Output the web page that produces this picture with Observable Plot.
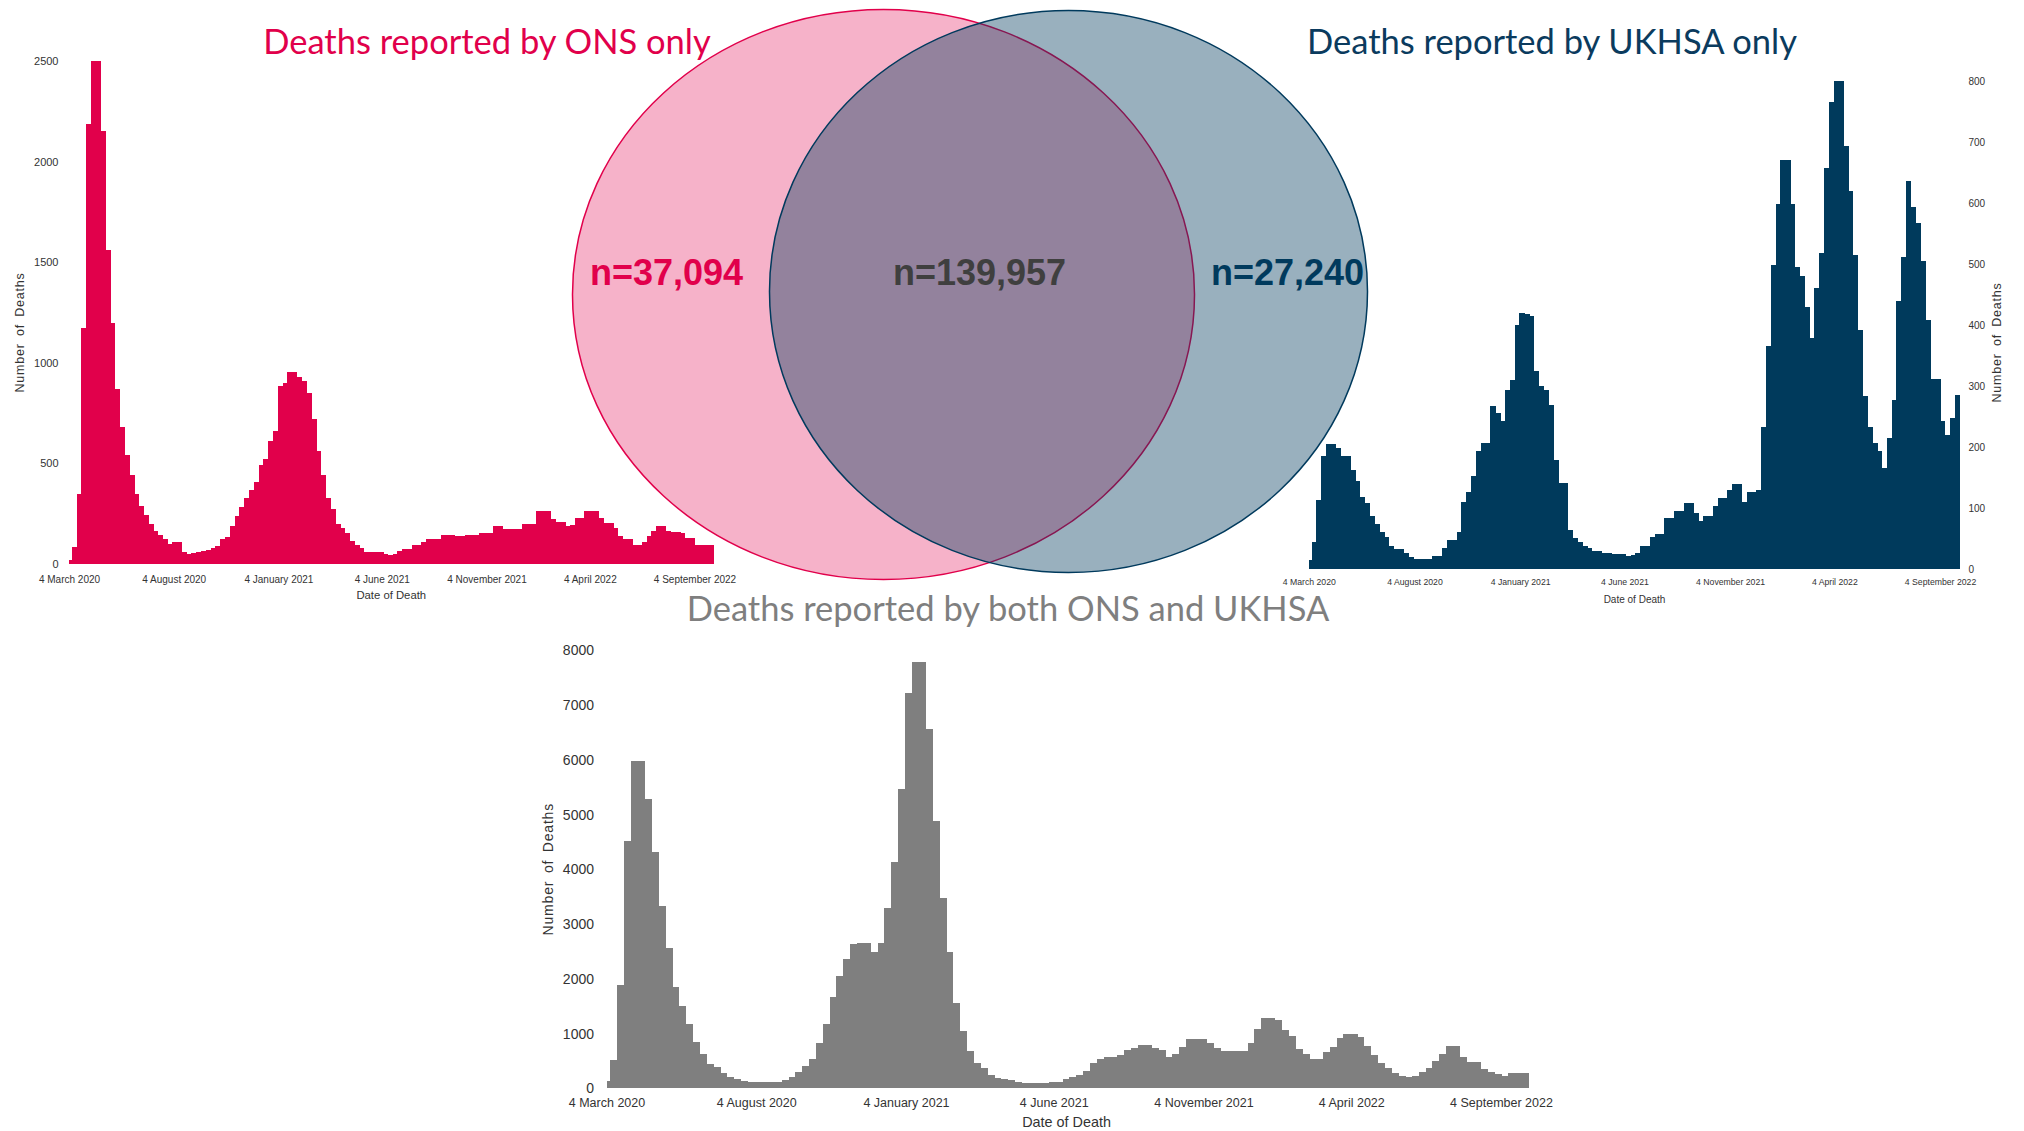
<!DOCTYPE html>
<html>
<head>
<meta charset="utf-8">
<script src="https://cdn.jsdelivr.net/npm/d3@7"></script>
<script src="https://cdn.jsdelivr.net/npm/@observablehq/plot@0.6"></script>
<style>
  html, body { margin: 0; padding: 0; background: #ffffff; }
  #page { position: relative; width: 2024px; height: 1131px; overflow: hidden; background: #ffffff; }
  .title { position: absolute; transform: translate(-50%, -50%); white-space: nowrap;
           font-family: Lato, "Open Sans", sans-serif; font-size: 34.5px; line-height: 1; }
</style>
</head>
<body>
<div id="page"></div>
<script>
// ---------------- DATA ----------------
// x-axis tick dates and their labels
const tickDates = ["2020-03-04", "2020-08-04", "2021-01-04", "2021-06-04", "2021-11-04", "2022-04-04", "2022-09-04"];
// first (partial) bin starts on 4 March 2020, weekly bins start 8 March 2020
const firstBinStart = "2020-03-04";
const weeklyBinStart = "2020-03-08";

// Weekly deaths reported by ONS only
const onsOnly = [
  20, 85, 346, 1172, 2189, 2500, 2500, 2150, 1563, 1198,
  870, 680, 544, 440, 350, 290, 243, 200, 165, 146,
  122, 100, 110, 110, 60, 50, 56, 58, 65, 72,
  80, 90, 125, 135, 190, 240, 285, 330, 370, 410,
  490, 520, 610, 660, 885, 900, 955, 955, 930, 910,
  850, 720, 560, 440, 330, 275, 200, 180, 155, 112,
  92, 80, 62, 58, 58, 58, 50, 46, 51, 63,
  76, 76, 93, 93, 110, 124, 124, 124, 146, 146,
  146, 137, 137, 146, 146, 146, 154, 154, 154, 190,
  190, 174, 174, 174, 174, 200, 200, 200, 262, 262,
  262, 225, 210, 210, 190, 195, 230, 230, 262, 262,
  262, 230, 205, 205, 180, 140, 125, 125, 96, 96,
  110, 140, 165, 190, 190, 165, 160, 160, 155, 130,
  130, 93, 93, 93, 93
];

// Weekly deaths reported by UKHSA only
const ukhsaOnly = [
  15, 44, 113, 186, 205, 205, 198, 186, 186, 162,
  144, 118, 108, 87, 74, 61, 53, 38, 33, 33,
  26, 19, 17, 17, 16, 16, 22, 22, 34, 48,
  48, 60, 110, 126, 152, 194, 207, 207, 267, 255,
  243, 294, 310, 400, 420, 418, 415, 325, 300, 294,
  269, 179, 141, 141, 64, 51, 45, 37, 34, 29,
  29, 27, 27, 25, 24, 24, 22, 23, 27, 37,
  37, 52, 58, 58, 84, 84, 95, 95, 108, 108,
  91, 78, 87, 87, 104, 117, 117, 130, 139, 139,
  110, 126, 126, 130, 233, 366, 499, 599, 670, 670,
  599, 495, 481, 429, 379, 460, 518, 657, 766, 800,
  800, 693, 620, 515, 392, 284, 232, 207, 194, 165,
  215, 277, 440, 512, 636, 593, 567, 505, 408, 311,
  311, 243, 220, 247, 285
];

// Weekly deaths reported by both ONS and UKHSA
const bothSources = [
  140, 517, 1886, 4520, 5980, 5980, 5292, 4319, 3333, 2555,
  1843, 1502, 1168, 852, 620, 444, 395, 286, 213, 164,
  134, 116, 116, 116, 122, 122, 152, 213, 298, 407,
  535, 821, 1174, 1673, 2050, 2354, 2628, 2658, 2658, 2494,
  2658, 3303, 4136, 5462, 7226, 7786, 7786, 6569, 4884, 3479,
  2494, 1551, 1052, 687, 456, 365, 243, 195, 164, 152,
  122, 103, 91, 91, 103, 116, 122, 165, 201, 244,
  323, 457, 530, 567, 567, 610, 701, 732, 793, 793,
  732, 701, 579, 628, 750, 896, 896, 896, 823, 732,
  689, 689, 689, 689, 823, 1085, 1280, 1280, 1250, 1067,
  957, 720, 628, 537, 530, 659, 750, 915, 988, 988,
  933, 774, 610, 470, 378, 274, 226, 201, 226, 293,
  378, 500, 628, 774, 774, 579, 488, 488, 360, 305,
  256, 232, 274, 274, 274
];

// y-axis tick values
const onsTicks = [0, 500, 1000, 1500, 2000, 2500];
const ukhsaTicks = [0, 100, 200, 300, 400, 500, 600, 700, 800];
const bothTicks = [0, 1000, 2000, 3000, 4000, 5000, 6000, 7000, 8000];

// Venn diagram
const vennSets = ["ONS only", "ONS and UKHSA", "UKHSA only"];
const vennCounts = [37094, 139957, 27240];

// Titles
const titleTexts = ["Deaths reported by ONS only", "Deaths reported by UKHSA only", "Deaths reported by both ONS and UKHSA"];

// ---------------- HELPERS ----------------
const parseDate = d => new Date(d + "T00:00:00Z");
const ticks = tickDates.map(parseDate);
const formatTick = d3.utcFormat("%-d %B %Y");
const AXIS_FONT = "'Liberation Sans', Arial, Helvetica, sans-serif";

function weeklyBins(values) {
  const first = parseDate(firstBinStart);
  const weekly = parseDate(weeklyBinStart);
  return values.map((v, i) => ({
    start: i === 0 ? first : d3.utcDay.offset(weekly, 7 * (i - 1)),
    end: d3.utcDay.offset(weekly, 7 * i),
    value: v
  }));
}

const page = document.getElementById("page");

function place(el, left, top) {
  el.style.position = "absolute";
  el.style.left = left + "px";
  el.style.top = top + "px";
  page.appendChild(el);
}

function histogram(values, o) {
  const svg = Plot.plot({
    width: o.width, height: o.height,
    marginLeft: o.ml, marginRight: o.mr, marginTop: o.mt, marginBottom: o.mb,
    style: {background: "none", overflow: "visible", fontFamily: AXIS_FONT, color: "#333333"},
    x: {type: "utc", domain: [ticks[0], ticks[ticks.length - 1]]},
    y: {domain: [0, o.yTicks[o.yTicks.length - 1]]},
    marks: [
      Plot.rectY(weeklyBins(values), {x1: "start", x2: "end", y: "value", fill: o.fill,
        insetLeft: 0, insetRight: -0.5, shapeRendering: "crispEdges"}),
      Plot.axisX({ticks, tickFormat: formatTick, tickSize: 0, tickPadding: o.xPad, fontSize: o.xFont, label: null}),
      Plot.axisY({anchor: o.yAnchor, ticks: o.yTicks, tickFormat: d3.format("d"), tickSize: 0, tickPadding: o.yPad, fontSize: o.yFont, label: null}),
      Plot.text(["Date of Death"], {frameAnchor: "bottom", dx: o.xlDx, dy: o.xlDy, lineAnchor: "middle", textAnchor: "middle", fontSize: o.xlFont}),
      Plot.text(["Number of Deaths"], {frameAnchor: o.yAnchor, rotate: -90, dx: o.ylDx, dy: o.ylDy, lineAnchor: "middle", textAnchor: "middle", fontSize: o.ylFont})
    ]
  });
  d3.select(svg).selectAll("text")
    .filter(function() { return this.textContent === "Number of Deaths"; })
    .style("letter-spacing", "0.8px").style("word-spacing", "3px");
  place(svg, o.left, o.top);
  return svg;
}

// ---------------- CHARTS ----------------
histogram(onsOnly, {
  left: 0, top: 0, width: 740, height: 620,
  ml: 69, mr: 45.5, mt: 61, mb: 56,
  fill: "#E1004B", yTicks: onsTicks, yAnchor: "left",
  xPad: 11, xFont: 10, yPad: 11, yFont: 11,
  xlDx: 9, xlDy: 31, xlFont: 11.3,
  ylDx: -49.6, ylDy: 19.5, ylFont: 12.5
});

histogram(ukhsaOnly, {
  left: 1280, top: 0, width: 744, height: 620,
  ml: 28.8, mr: 84, mt: 81, mb: 51,
  fill: "#003A5C", yTicks: ukhsaTicks, yAnchor: "right",
  xPad: 9.5, xFont: 8.7, yPad: 28, yFont: 10,
  xlDx: 9.6, xlDy: 30, xlFont: 10,
  ylDx: 56, ylDy: 17, ylFont: 12.5
});

histogram(bothSources, {
  left: 520, top: 620, width: 1040, height: 511,
  ml: 86.5, mr: 59, mt: 30.5, mb: 42.7,
  fill: "#7F7F7F", yTicks: bothTicks, yAnchor: "left",
  xPad: 9, xFont: 12.5, yPad: 13, yFont: 14,
  xlDx: 12.3, xlDy: 33.4, xlFont: 14.4,
  ylDx: -58, ylDy: -0.7, ylFont: 14
});

// ---------------- VENN ----------------
function ellipseSymbol(rx, ry) {
  const k = 0.5522847498;
  return {
    draw(ctx) {
      ctx.moveTo(rx, 0);
      ctx.bezierCurveTo(rx, ry * k, rx * k, ry, 0, ry);
      ctx.bezierCurveTo(-rx * k, ry, -rx, ry * k, -rx, 0);
      ctx.bezierCurveTo(-rx, -ry * k, -rx * k, -ry, 0, -ry);
      ctx.bezierCurveTo(rx * k, -ry, rx, -ry * k, rx, 0);
      ctx.closePath();
    }
  };
}

const vennLayout = {
  left: 560, top: 0, width: 820, height: 590,
  ons: {cx: 323, cy: 294, rx: 311, ry: 285, color: "#E1004B", opacity: 0.3},
  ukhsa: {cx: 508, cy: 291, rx: 299, ry: 281, color: "#003A5D", opacity: 0.4},
  labelX: [106, 419, 727],
  labelY: 273
};
const L = vennLayout.ons, R = vennLayout.ukhsa;
const labelColors = ["#E1004B", "#3F3F3F", "#003A5D"];
const fmtN = d3.format(",");

const venn = Plot.plot({
  width: vennLayout.width, height: vennLayout.height,
  margin: 0,
  style: {background: "none", overflow: "visible"},
  x: {type: "identity", axis: null},
  y: {type: "identity", axis: null},
  marks: [
    ...[L, R].map(e => Plot.dot([e], {
      x: "cx", y: "cy", r: 1, symbol: ellipseSymbol(e.rx, e.ry),
      fill: e.color, fillOpacity: e.opacity, stroke: e.color, strokeWidth: 1.5
    })),
    ...vennCounts.map((n, i) => Plot.text([vennSets[i]], {
      x: () => vennLayout.labelX[i], y: () => vennLayout.labelY,
      text: () => "n=" + fmtN(n),
      fill: labelColors[i], fontSize: 36, fontWeight: "bold",
      fontFamily: AXIS_FONT, lineAnchor: "middle", textAnchor: "middle"
    }))
  ]
});
place(venn, vennLayout.left, vennLayout.top);

// ---------------- TITLES ----------------
const titleLayout = [
  {x: 487, y: 41, color: "#E1004B"},
  {x: 1552, y: 41, color: "#0B3B5E"},
  {x: 1008, y: 608, color: "#7F7F7F"}
];
titleTexts.forEach((t, i) => {
  const div = document.createElement("div");
  div.className = "title";
  div.textContent = t;
  div.style.left = titleLayout[i].x + "px";
  div.style.top = titleLayout[i].y + "px";
  div.style.color = titleLayout[i].color;
  page.appendChild(div);
});
</script>
</body>
</html>
